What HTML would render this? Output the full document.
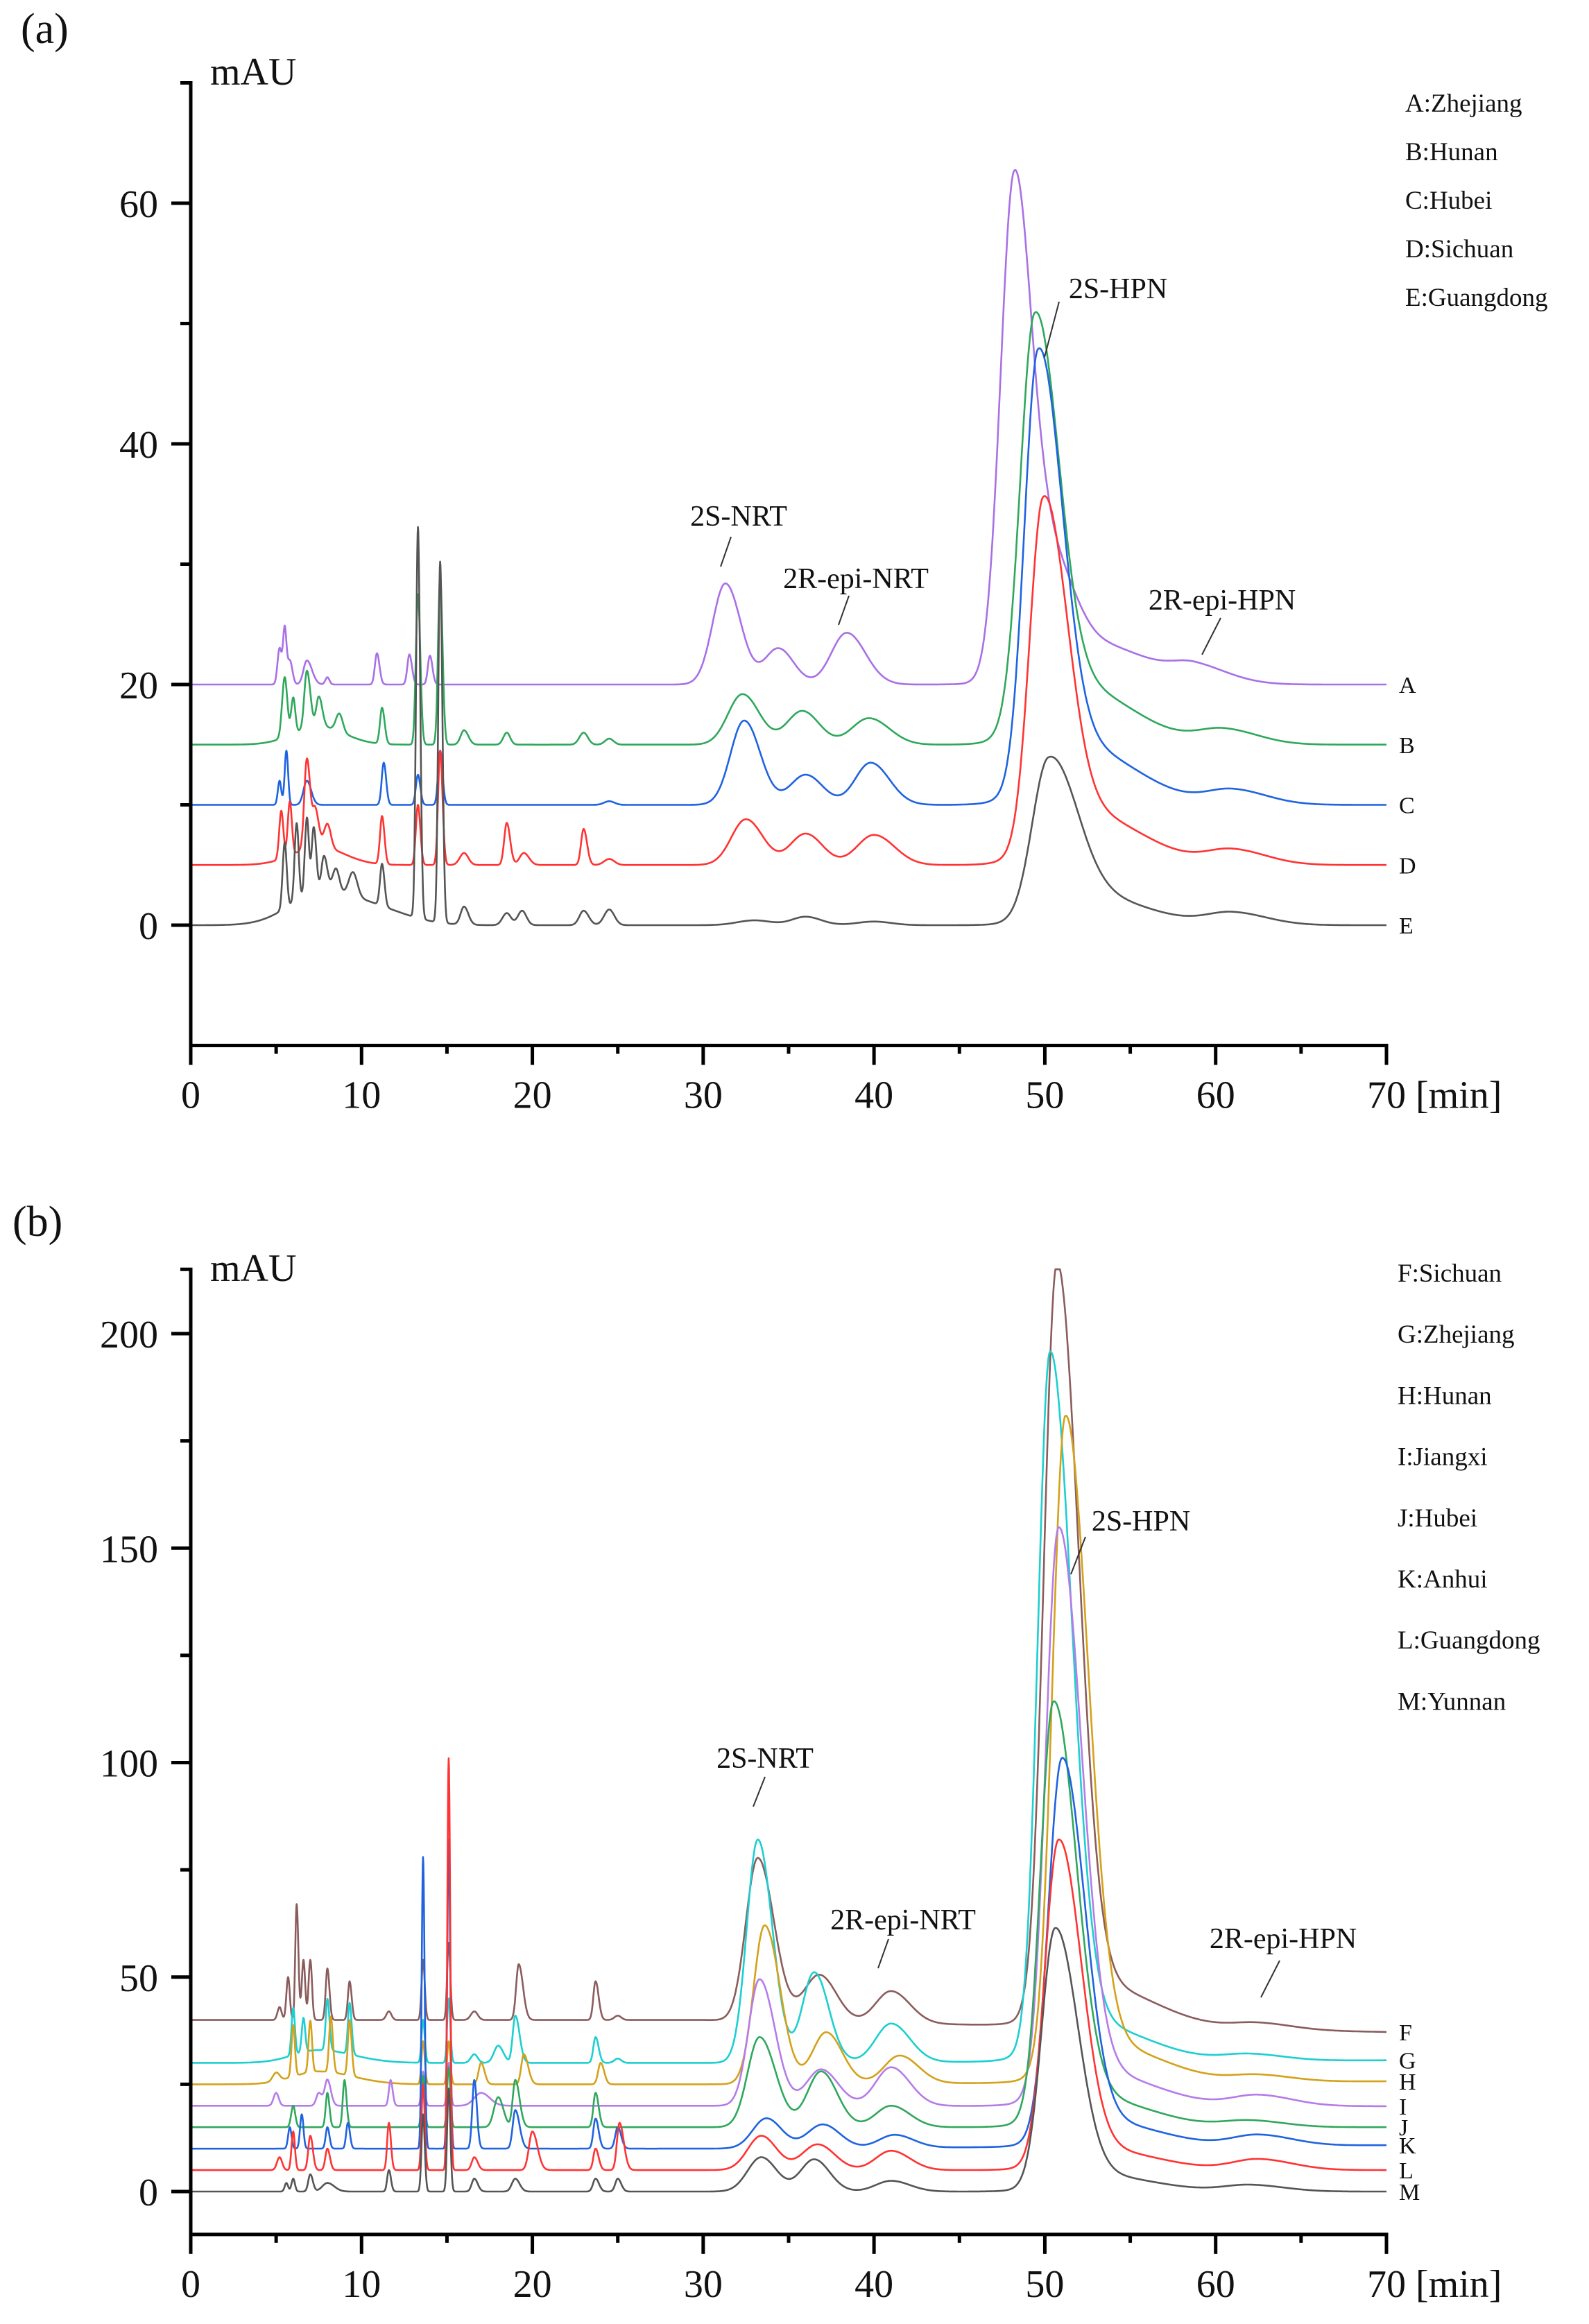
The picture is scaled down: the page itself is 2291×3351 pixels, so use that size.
<!DOCTYPE html>
<html><head><meta charset="utf-8">
<style>
html,body{margin:0;padding:0;background:#fff;}
svg{display:block;font-family:"Liberation Serif","Times New Roman",serif;}
text{font-family:"Liberation Serif","Times New Roman",serif;fill:#111;}
</style></head>
<body>
<svg id="chart" width="2291" height="3351" viewBox="0 0 2291 3351" xmlns="http://www.w3.org/2000/svg" font-family="Liberation Serif, serif">
<g id="panelA"></g>
<g id="panelB"></g>
</svg>
<script>
// ---- Panel (a) data: peaks [retention time, height, sigma-left, sigma-right] ----
const seriesNamesA = ["A","B","C","D","E"];
const colorsA = ["#a970e6","#2fa85c","#1f63e0","#ff3333","#555555"];
const baseStartA = [20,15,10,5,0];
const baseEndA = [20,15,10,5,0];
const peaksA_A = [[5.2,3,0.12,0.12],[5.5,4.5,0.1,0.1],[5.8,2,0.15,0.15],[6.8,2,0.2,0.3],[8,0.6,0.12,0.12],[10.9,2.6,0.12,0.15],[12.8,2.5,0.12,0.15],[14,2.4,0.12,0.15],[31.3,8.4,0.75,0.9],[34.4,3,0.8,0.9],[38.4,4.3,0.9,1.1],[48.2,41,0.8,1.0],[50.3,8,1.0,1.3],[52.5,3.5,2.5,3.5],[58.8,1.2,1.3,2]];
const peaksA_B = [[5.5,5,0.15,0.15],[6,3,0.12,0.12],[6.8,4.8,0.15,0.2],[7.5,2.5,0.15,0.2],[8.7,1.5,0.2,0.2],[7.5,1.5,1.5,1.5],[11.2,3,0.12,0.15],[13.3,12.5,0.12,0.14],[14.6,14,0.12,0.14],[16,1.2,0.2,0.25],[18.5,1,0.2,0.2],[23,1,0.25,0.25],[24.5,0.5,0.25,0.25],[32.3,4.2,0.85,1.0],[35.8,2.8,0.9,1.0],[39.7,2.2,1.0,1.2],[49.4,33,0.85,1.35],[51.5,5,2.0,3.5],[60.5,1.2,1.5,2]];
const peaksA_C = [[5.2,2,0.1,0.1],[5.6,4.5,0.1,0.1],[6.8,2,0.2,0.25],[11.3,3.5,0.12,0.14],[13.3,2.5,0.12,0.14],[14.6,4.5,0.12,0.14],[24.5,0.3,0.3,0.3],[32.4,7,0.8,0.95],[36,2.5,0.9,1.0],[39.8,3.5,0.9,1.1],[49.6,35,0.8,1.35],[51.7,5,2.0,3.5],[61,1.2,1.5,2]];
const peaksA_D = [[5.3,4,0.12,0.12],[5.8,4.5,0.12,0.12],[6.8,7.5,0.15,0.2],[7.3,3,0.15,0.2],[8,2,0.2,0.2],[7.5,1.5,1.5,1.5],[11.2,4,0.12,0.14],[13.3,5,0.12,0.14],[14.6,9.5,0.12,0.14],[16,1,0.25,0.25],[18.5,3.5,0.15,0.2],[19.5,1,0.25,0.3],[23,3,0.15,0.2],[24.5,0.5,0.3,0.3],[32.5,3.8,0.85,1.0],[36,2.6,0.9,1.0],[40,2.5,1.0,1.2],[49.9,28,0.8,1.35],[52,4.5,2.0,3.5],[61,1.2,1.5,2]];
const peaksA_E = [[5.5,5.5,0.12,0.12],[6.2,6.5,0.12,0.12],[6.8,6.5,0.12,0.12],[7.2,5.5,0.12,0.15],[7.8,3,0.15,0.2],[8.5,2,0.2,0.2],[9.5,2,0.25,0.25],[7.5,2.5,1.8,2.2],[11,1,2,2],[11.2,3.5,0.12,0.14],[13.3,32.5,0.11,0.13],[14.6,30,0.11,0.13],[16,1.5,0.2,0.25],[18.5,1,0.25,0.25],[19.4,1.2,0.25,0.25],[23,1.2,0.25,0.3],[24.5,1.3,0.3,0.3],[33,0.4,1,1],[36,0.7,0.8,0.9],[40,0.3,1,1],[50.2,12.5,0.95,1.6],[52.3,2.5,2.0,3.5],[61,1,1.5,2]];
const peaksA = [peaksA_A,peaksA_B,peaksA_C,peaksA_D,peaksA_E];
const xTicksA = [0,10,20,30,40,50,60,70];
const yTicksA = [0,20,40,60];
const legendA = ["A:Zhejiang","B:Hunan","C:Hubei","D:Sichuan","E:Guangdong"];

// ---- Panel (b) data ----
const seriesNamesB = ["F","G","H","I","J","K","L","M"];
const colorsB = ["#8b5c5c","#1ccfd0","#d4a11a","#b57ce8","#2fa85c","#1f63e0","#ff3333","#555555"];
const baseStartB = [40,30,25,20,15,10,5,0];
const baseEndB = [37.2,30.6,25.7,19.9,15,10.8,5,0];
const peaksB_F = [[5.2,3,0.12,0.12],[5.7,10,0.1,0.1],[6.2,27,0.08,0.1],[6.6,14,0.1,0.1],[7,14,0.1,0.1],[8,12,0.1,0.12],[9.3,9,0.1,0.12],[11.6,2,0.15,0.15],[13.6,14,0.09,0.1],[15.1,18,0.09,0.1],[16.6,2,0.2,0.2],[19.2,13,0.15,0.25],[23.7,9,0.13,0.18],[25,1,0.2,0.2],[33.2,38,0.7,0.95],[36.8,11,0.9,1.0],[41,7.5,0.9,1.1],[50.7,172,0.75,1.25],[52.8,10,2.0,3.5],[62.5,1.5,1.5,2]];
const peaksB_G = [[6,11,0.1,0.1],[6.6,8,0.1,0.1],[8,12,0.1,0.12],[9.3,12,0.1,0.12],[7.5,3,1.5,2],[13.6,10,0.09,0.1],[15.1,15,0.09,0.1],[16.6,2,0.2,0.2],[18,4,0.25,0.3],[19,11,0.15,0.25],[23.7,6,0.13,0.18],[25,1,0.2,0.2],[33.2,52,0.65,0.85],[36.5,21,0.7,0.85],[41,9,0.9,1.1],[50.3,160,0.7,1.25],[52.3,9,2.0,3.5],[62,1.5,1.5,2]];
const peaksB_H = [[5,2,0.2,0.2],[6,12,0.1,0.1],[7,12,0.1,0.1],[8.2,13,0.1,0.12],[9.3,13,0.1,0.12],[7.5,3,1.5,2],[13.6,10,0.09,0.1],[15.1,10,0.09,0.1],[17,5,0.15,0.2],[19.5,7,0.15,0.25],[24,5,0.15,0.2],[33.6,37,0.65,0.9],[37.2,12,0.8,0.95],[41.5,6.5,0.9,1.1],[51.2,150,0.75,1.3],[53.2,9,2.0,3.5],[62.5,1.5,1.5,2]];
const peaksB_I = [[5,3,0.15,0.15],[7.5,3,0.15,0.2],[8,6,0.15,0.2],[11.7,6,0.1,0.12],[13.6,8,0.09,0.1],[15.1,10,0.09,0.1],[17,3,0.4,0.5],[33.3,29.5,0.65,0.9],[36.9,8.5,0.85,1.0],[41,9,0.9,1.1],[50.8,130,0.75,1.3],[52.8,8,2.0,3.5],[62.5,2.5,1.5,2]];
const peaksB_J = [[6,5,0.12,0.12],[8,8,0.1,0.12],[9,11,0.1,0.12],[13.6,12,0.09,0.1],[15.1,14,0.09,0.1],[18,7,0.25,0.3],[19,11,0.15,0.25],[23.7,8,0.13,0.18],[33.3,21,0.7,0.95],[36.9,13,0.8,0.95],[41,5,0.9,1.1],[50.5,95,0.75,1.3],[52.5,7,2.0,3.5],[62,1.5,1.5,2]];
const peaksB_K = [[5.8,5,0.1,0.1],[6.5,8,0.1,0.1],[8,5,0.1,0.12],[9.2,6,0.1,0.12],[13.6,68,0.08,0.09],[15.1,72,0.08,0.09],[16.6,16,0.12,0.15],[19,9,0.15,0.25],[23.7,7,0.13,0.18],[25,5,0.15,0.2],[33.7,7,0.8,0.9],[37,5.5,0.9,1.0],[41.2,3,0.9,1.1],[51,87,0.8,1.3],[53,6,2.0,3.5],[62.5,2.5,1.5,2]];
const peaksB_L = [[5.2,3,0.15,0.15],[6,9,0.1,0.1],[7,8,0.12,0.15],[8,5,0.12,0.15],[11.6,11,0.1,0.12],[13.6,20,0.09,0.1],[15.1,96,0.08,0.09],[16.6,3,0.15,0.2],[20,9,0.2,0.3],[23.7,5,0.13,0.18],[25.1,11,0.15,0.25],[33.4,8,0.8,0.9],[36.7,6,0.9,1.0],[41,4.5,0.9,1.1],[50.8,74,0.8,1.3],[52.8,5,2.0,3.5],[62.5,2.5,1.5,2]];
const peaksB_M = [[5.6,2,0.1,0.1],[6,3,0.1,0.1],[7,4,0.12,0.15],[8,2,0.3,0.4],[11.6,5,0.1,0.12],[13.6,18,0.09,0.1],[15.1,24,0.09,0.1],[16.6,3,0.15,0.2],[19,3,0.2,0.25],[23.7,3,0.15,0.2],[25,3,0.15,0.2],[33.4,8,0.8,0.9],[36.5,7.5,0.8,0.9],[41,2.5,0.9,1.1],[50.6,59,0.8,1.3],[52.6,4,2.0,3.5],[62,1.5,1.5,2]];
const peaksB = [peaksB_F,peaksB_G,peaksB_H,peaksB_I,peaksB_J,peaksB_K,peaksB_L,peaksB_M];
const xTicksB = [0,10,20,30,40,50,60,70];
const yTicksB = [0,50,100,150,200];
const legendB = ["F:Sichuan","G:Zhejiang","H:Hunan","I:Jiangxi","J:Hubei","K:Anhui","L:Guangdong","M:Yunnan"];

const NS = "http://www.w3.org/2000/svg";
function mk(parent, tag, attrs, txt){
  const e = document.createElementNS(NS, tag);
  for (const k in attrs) e.setAttribute(k, attrs[k]);
  if (txt !== undefined) e.textContent = txt;
  parent.appendChild(e);
  return e;
}
function signal(t, peaks, b0, b1){
  let v = b0 + (b1 - b0) * Math.max(0, t - 30) / 40;
  for (const p of peaks){
    const s = t < p[0] ? p[2] : p[3];
    const z = (t - p[0]) / s;
    if (Math.abs(z) < 8) v += p[1] * Math.exp(-0.5 * z * z);
  }
  return v;
}

function drawPanel(g, cfg){
  const X = v => cfg.x0 + (v - 0) / 70 * (cfg.x1 - cfg.x0);
  const Y = v => cfg.y0 - v * cfg.ppu;
  for (let i = 0; i < cfg.peaks.length; i++){
    let d = "";
    for (let t = 0; t <= 70.0001; t += 0.02){
      const v = Math.min(signal(t, cfg.peaks[i], cfg.bs[i], cfg.be[i]), cfg.ymax);
      d += (t === 0 ? "M" : "L") + X(t).toFixed(1) + "," + Y(v).toFixed(1);
    }
    const p = mk(g, "path", {d: d, fill: "none", stroke: cfg.colors[i], "stroke-width": 2.6, "stroke-linejoin": "round"});
    
    
    const lab = mk(g, "text", {x: 2017, y: Y(cfg.be[i]) + 12, "font-size": 34}, cfg.names[i]);
    
    
  }
  const yTop = Y(cfg.ymax), yBot = Y(cfg.ymin);
  const ax = mk(g, "path", {d: `M${cfg.x0 - 15},${yTop}H${cfg.x0}V${yBot}H${cfg.x1}V${yBot + 28}`, fill: "none", stroke: "#000", "stroke-width": 5});
  
  
  mk(g, "line", {x1: cfg.x0, y1: yBot, x2: cfg.x0, y2: yBot + 28, stroke: "#000", "stroke-width": 5});
  for (let m = 5; m < 70; m += 10){
    mk(g, "line", {x1: X(m), y1: yBot, x2: X(m), y2: yBot + 12, stroke: "#000", "stroke-width": 5});
  }
  for (let k = 10; k < 70; k += 10){
    mk(g, "line", {x1: X(k), y1: yBot, x2: X(k), y2: yBot + 28, stroke: "#000", "stroke-width": 5});
  }
  cfg.xt.forEach(v => {
    const t = mk(g, "text", {x: X(v), y: yBot + 90, "font-size": 56, "text-anchor": "middle"}, String(v));
    
    
  });
  const unit = mk(g, "text", {x: X(70) + 42, y: yBot + 90, "font-size": 56}, "[min]");
  
  
  for (let m = cfg.minorStart; m < cfg.ymax; m += cfg.minorStep){
    mk(g, "line", {x1: cfg.x0 - 15, y1: Y(m), x2: cfg.x0, y2: Y(m), stroke: "#000", "stroke-width": 5});
  }
  cfg.yt.forEach(v => {
    mk(g, "line", {x1: cfg.x0 - 28, y1: Y(v), x2: cfg.x0, y2: Y(v), stroke: "#000", "stroke-width": 5});
    const t = mk(g, "text", {x: 228, y: Y(v) + 20, "font-size": 56, "text-anchor": "end"}, String(v));
    
    
  });
  const yt = mk(g, "text", {x: cfg.x0 + 28, y: cfg.mauY, "font-size": 56}, "mAU");
  
  
  const pl = mk(g, "text", {x: cfg.plx, y: cfg.ply, "font-size": 62}, cfg.panelLabel);
  
  
  cfg.legend.forEach((s, i) => {
    const t = mk(g, "text", {x: cfg.legX, y: cfg.legY0 + i * cfg.legDy + 13, "font-size": 37}, s);
    
    
  });
  cfg.ann.forEach(a => {
    const t = mk(g, "text", {x: a[1], y: a[2] + 14, "font-size": 42, "text-anchor": "middle"}, a[0]);
    
    
    const l = mk(g, "line", {x1: a[3], y1: a[4], x2: a[5], y2: a[6], stroke: "#333", "stroke-width": 2});
    
    
  });
}

drawPanel(document.getElementById("panelA"), {
  x0: 275, x1: 1999, y0: 1334, ppu: 17.35, ymin: -10, ymax: 70,
  peaks: peaksA, colors: colorsA, names: seriesNamesA, bs: baseStartA, be: baseEndA,
  xt: xTicksA, yt: yTicksA, minorStart: 10, minorStep: 20,
  mauY: 122, panelLabel: "(a)", plx: 30, ply: 62,
  legend: legendA, legX: 2026, legY0: 148, legDy: 70,
  ann: [["2S-NRT",1065,744,1054,774,1039,817],["2R-epi-NRT",1234,834,1224,859,1209,901],
        ["2S-HPN",1612,416,1527,435,1506,515],["2R-epi-HPN",1762,865,1760,891,1733,944]]
});
drawPanel(document.getElementById("panelB"), {
  x0: 275, x1: 1999, y0: 3160, ppu: 6.185, ymin: -10, ymax: 215,
  peaks: peaksB, colors: colorsB, names: seriesNamesB, bs: baseStartB, be: baseEndB,
  xt: xTicksB, yt: yTicksB, minorStart: 25, minorStep: 50,
  mauY: 1847, panelLabel: "(b)", plx: 18, ply: 1782,
  legend: legendB, legX: 2015, legY0: 1835, legDy: 88.2,
  ann: [["2S-NRT",1103,2535,1103,2562,1086,2605],["2R-epi-NRT",1302,2768,1281,2796,1266,2838],
        ["2S-HPN",1645,2193,1565,2216,1544,2270],["2R-epi-HPN",1850,2795,1845,2827,1818,2880]]
});
</script>
</body></html>
